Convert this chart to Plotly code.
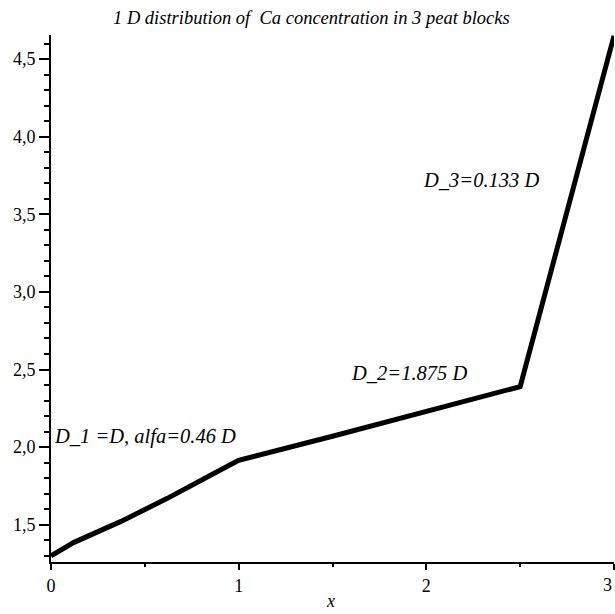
import plotly.graph_objects as go

# Data
x_vals = [0.0, 0.12, 0.37, 0.62, 0.86, 1.0, 1.5, 2.0, 2.5, 3.0]
y_vals = [1.30, 1.385, 1.52, 1.67, 1.825, 1.915, 2.07, 2.23, 2.39, 4.65]

x_tickvals = [0, 1, 2, 3]
x_ticktext = ["0", "1", "2", "3"]

title_text = "1 D distribution of  Ca concentration in 3 peat blocks"
label_texts = ["D_1 =D, alfa=0.46 D", "D_2=1.875 D", "D_3=0.133 D"]
label_x = [0.0, 1.91, 2.29]
label_y = [2.07, 2.48, 3.72]
label_anchor = ["left", "center", "center"]

serif = "Liberation Serif"
W, H = 615, 614
ML, MR, MT, MB = 51, 1, 35, 52
plot_h = H - MT - MB

fig = go.Figure()
fig.add_trace(go.Scatter(
    x=x_vals, y=y_vals, mode="lines",
    line=dict(color="black", width=5),
    showlegend=False, hoverinfo="skip",
))

for t, lx, ly, anc in zip(label_texts, label_x, label_y, label_anchor):
    fig.add_annotation(
        x=lx, y=ly, xref="x", yref="y", text=t, showarrow=False,
        xanchor=anc, yanchor="middle", xshift=1 if anc == "left" else 0,
        font=dict(family=serif, size=20.5, color="black", style="italic"),
    )

# title
fig.add_annotation(
    x=(311 - ML) / (W - ML - MR), y=1 + (MT - 18) / plot_h, xref="paper", yref="paper",
    text=title_text, showarrow=False, xanchor="center", yanchor="middle",
    font=dict(family=serif, size=18.5, color="black", style="italic"),
)

# x axis title
fig.add_annotation(
    x=1.49, y=-(601 - (H - MB)) / plot_h, xref="x", yref="paper", text="x", showarrow=False,
    xanchor="center", yanchor="middle",
    font=dict(family=serif, size=18, color="black", style="italic"),
)

# last x tick label, kept inside the page edge
fig.add_annotation(
    x=x_tickvals[-1], y=-(585 - (H - MB)) / plot_h, xref="x", yref="paper",
    text=x_ticktext[-1], showarrow=False, xanchor="right", yanchor="middle",
    font=dict(family=serif, size=18, color="black"),
)

fig.update_layout(
    width=W, height=H,
    margin=dict(l=ML, r=MR, t=MT, b=MB, autoexpand=False),
    paper_bgcolor="white", plot_bgcolor="white",
    separators=", ",
    xaxis=dict(
        range=[0, 3], tickmode="array", tickvals=x_tickvals,
        ticktext=x_ticktext[:-1] + [""], automargin=False,
        ticklabeloverflow="allow",
        showgrid=False, zeroline=False, showline=True, linecolor="black", linewidth=2,
        ticks="outside", ticklen=6, tickwidth=1.5, tickcolor="black",
        minor=dict(tickmode="linear", tick0=0, dtick=0.5, ticks="outside", ticklen=3,
                   tickwidth=1.5, tickcolor="black", showgrid=False),
        tickfont=dict(family=serif, size=18, color="black"),
    ),
    yaxis=dict(
        range=[1.26, 4.655], tickmode="linear", tick0=1.5, dtick=0.5, tickformat=".1f",
        automargin=False, ticklabeloverflow="allow",
        showgrid=False, zeroline=False, showline=True, linecolor="black", linewidth=2,
        ticks="outside", ticklen=10, tickwidth=1.5, tickcolor="black",
        minor=dict(tickmode="linear", tick0=1.5, dtick=0.1, ticks="outside", ticklen=5,
                   tickwidth=1.5, tickcolor="black", showgrid=False),
        tickfont=dict(family=serif, size=18, color="black"),
    ),
)

fig.write_html(
    "out.html",
    config={"displayModeBar": False},
    post_script="document.body.style.margin='0';document.body.style.overflow='hidden';",
)
